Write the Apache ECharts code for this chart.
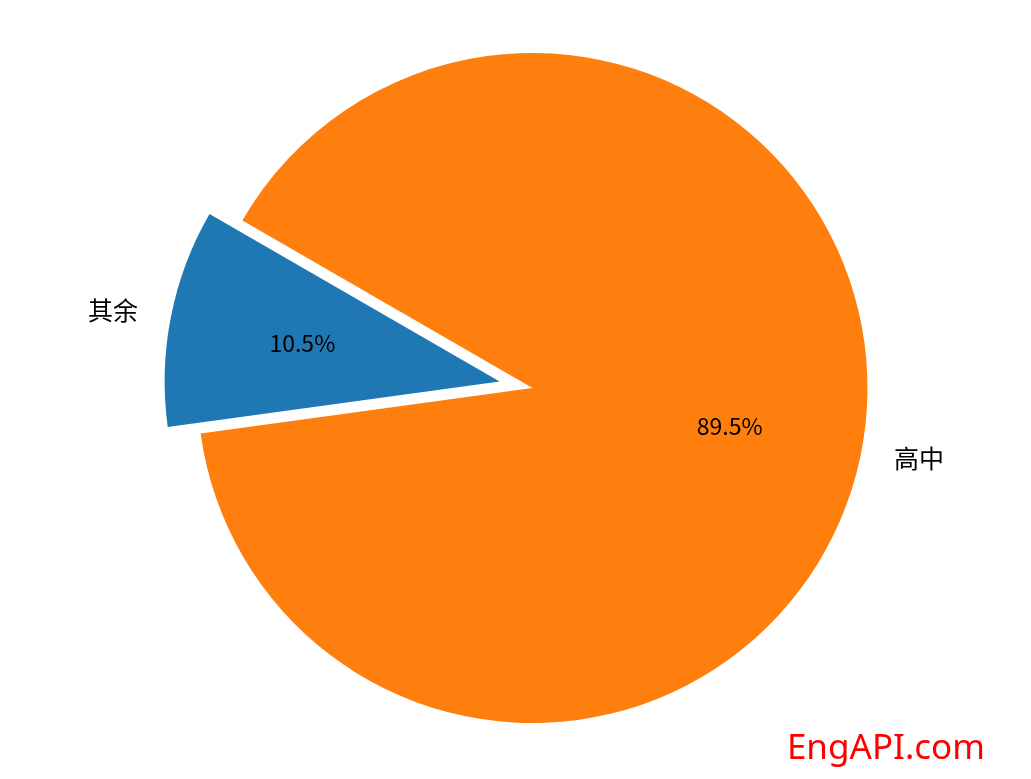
<!DOCTYPE html>
<html>
<head>
<meta charset="utf-8">
<script src="https://cdn.jsdelivr.net/npm/echarts@6/dist/echarts.min.js"></script>
<style>
html,body{margin:0;padding:0;background:#fff;}
#chart{width:1031px;height:779px;}
</style>
</head>
<body>
<div id="chart"></div>
<script>
const categories = ['其余', '高中'];
const values = [10.5, 89.5];
const colors = ['#1f77b4', '#ff7f0e'];
const explode = [true, false];

const R = 335;
const center = [532.5, 388];
const font = '"Noto Sans CJK SC", "Noto Sans", sans-serif';

function items(transparent) {
  return categories.map((c, i) => ({
    name: c,
    value: values[i],
    selected: explode[i],
    itemStyle: { color: transparent ? 'rgba(0,0,0,0)' : colors[i], borderWidth: 0 }
  }));
}

const chart = echarts.init(document.getElementById('chart'), null, { renderer: 'canvas' });
chart.setOption({
  animation: false,
  backgroundColor: '#fff',
  series: [
    {
      type: 'pie',
      center: center,
      radius: [0, R],
      startAngle: 150,
      clockwise: false,
      selectedMode: 'multiple',
      selectedOffset: R * 0.1,
      avoidLabelOverlap: false,
      emphasis: { scale: false },
      label: {
        show: true,
        position: 'outside',
        formatter: '{b}',
        fontFamily: font,
        fontSize: 25,
        color: '#000',
        distanceToLabelLine: 0
      },
      labelLine: { show: false, length: R * 0.1, length2: 0 },
      data: items(false)
    },
    {
      type: 'pie',
      center: center,
      radius: [R * 0.2 - 6, R],
      startAngle: 150,
      clockwise: false,
      silent: true,
      selectedMode: 'multiple',
      selectedOffset: R * 0.1,
      avoidLabelOverlap: false,
      emphasis: { scale: false },
      label: {
        show: true,
        position: 'inside',
        formatter: p => p.value.toFixed(1) + '%',
        fontFamily: font,
        fontSize: 23,
        color: '#000'
      },
      labelLine: { show: false },
      data: items(true)
    }
  ],
  graphic: [{
    type: 'text',
    right: 46,
    bottom: 12,
    style: {
      text: 'EngAPI.com',
      font: '35px "Noto Sans", sans-serif',
      fill: '#ff0000'
    }
  }]
});
</script>
</body>
</html>
